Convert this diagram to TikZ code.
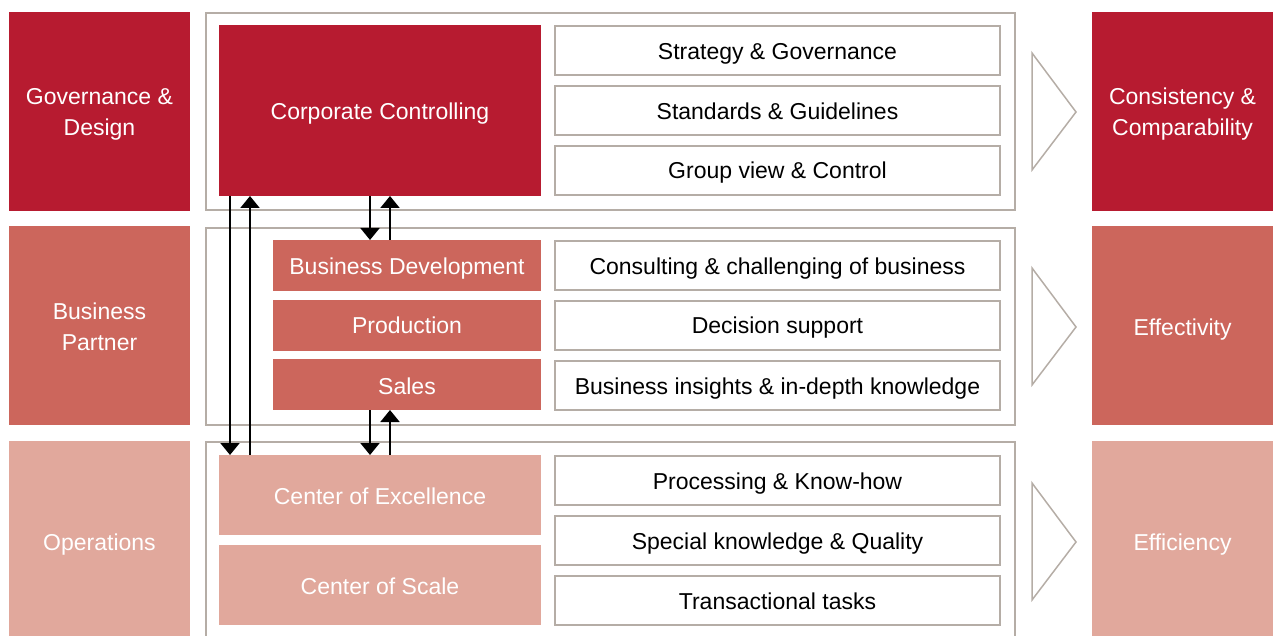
\documentclass[tikz,border=0pt]{standalone}
\usepackage{fontspec}
\setmainfont{Liberation Sans}
\usetikzlibrary{arrows.meta}
\definecolor{cdark}{RGB}{183,27,48}
\definecolor{cmid}{RGB}{204,102,92}
\definecolor{clight}{RGB}{225,168,156}
\definecolor{cgray}{RGB}{181,173,166}
\tikzset{
  lbl/.style={font=\fontsize{23}{31}\selectfont, text=white, align=center, anchor=base, inner sep=0pt},
  frame/.style={draw=cgray, line width=2pt},
  tbox/.style={draw=cgray, line width=2pt, fill=white},
  ttext/.style={font=\fontsize{23}{28}\selectfont, text=black, anchor=base, inner sep=0pt},
  chev/.style={draw=cgray, line width=1.5pt, line join=miter},
  arr/.style={line width=2pt, -{Triangle[width=19pt,length=12pt]}},
}
\begin{document}
\begin{tikzpicture}[x=1pt,y=-1pt]
\useasboundingbox (0,0) rectangle (1280,636);
\clip (0,0) rectangle (1280,636);
% left column
\fill[cdark] (9,12) rectangle (190,211);
\fill[cmid] (9,226) rectangle (190,425);
\fill[clight] (9,441) rectangle (190,650);
\node[lbl] (gd) at (99.5,136) {Governance \&\\Design};
\node[lbl] (bp) at (99.5,351) {Business\\Partner};
\node[lbl] (op) at (99.5,550) {Operations};
% right column
\fill[cdark] (1092,12) rectangle (1273,211);
\fill[cmid] (1092,226) rectangle (1273,425);
\fill[clight] (1092,441) rectangle (1273,650);
\node[lbl] (cc2) at (1182.5,136) {Consistency \&\\Comparability};
\node[lbl] (ef) at (1182.5,335) {Effectivity};
\node[lbl] (ey) at (1182.5,550) {Efficiency};
% frames
\draw[frame] (206,13) rectangle (1015,210);
\draw[frame] (206,228) rectangle (1015,425);
\draw[frame] (206,650) -- (206,442) -- (1015,442) -- (1015,650);
% chevrons (open triangles)
\draw[chev] (1032,53) -- (1076,112) -- (1032,170) -- cycle;
\draw[chev] (1032,268) -- (1076,327) -- (1032,385) -- cycle;
\draw[chev] (1032,483) -- (1076,542) -- (1032,600) -- cycle;
% row 1
\fill[cdark] (219,25) rectangle (541,196);
\node[lbl] (corp) at (380,120) {Corporate Controlling};
\draw[tbox] (555,26) rectangle (1000,75);
\draw[tbox] (555,86) rectangle (1000,135);
\draw[tbox] (555,146) rectangle (1000,195);
\node[ttext] (t1) at (777.5,60) {Strategy \& Governance};
\node[ttext] (t2) at (777.5,120) {Standards \& Guidelines};
\node[ttext] (t3) at (777.5,179) {Group view \& Control};
% row 2
\fill[cmid] (273,240) rectangle (541,291);
\fill[cmid] (273,300) rectangle (541,351);
\fill[cmid] (273,359) rectangle (541,410);
\node[lbl] (bd) at (407,275) {Business Development};
\node[lbl] (pr) at (407,334) {Production};
\node[lbl] (sa) at (407,394) {Sales};
\draw[tbox] (555,241) rectangle (1000,290);
\draw[tbox] (555,301) rectangle (1000,350);
\draw[tbox] (555,361) rectangle (1000,410);
\node[ttext] (t4) at (777.5,275) {Consulting \& challenging of business};
\node[ttext] (t5) at (777.5,334) {Decision support};
\node[ttext] (t6) at (777.5,394) {Business insights \& in-depth knowledge};
% row 3
\fill[clight] (219,455) rectangle (541,535);
\fill[clight] (219,545) rectangle (541,625);
\node[lbl] (coe) at (380,504) {Center of Excellence};
\node[lbl] (cos) at (380,594) {Center of Scale};
\draw[tbox] (555,456) rectangle (1000,505);
\draw[tbox] (555,516) rectangle (1000,565);
\draw[tbox] (555,576) rectangle (1000,625);
\node[ttext] (t7) at (777.5,489) {Processing \& Know-how};
\node[ttext] (t8) at (777.5,549) {Special knowledge \& Quality};
\node[ttext] (t9) at (777.5,609) {Transactional tasks};
% connector anchor coordinates
\coordinate (a1) at (230,196); \coordinate (a2) at (230,455);
\coordinate (b1) at (250,455); \coordinate (b2) at (250,196);
\coordinate (c1) at (370,196); \coordinate (c2) at (370,240);
\coordinate (d1) at (390,240); \coordinate (d2) at (390,196);
\coordinate (e1) at (370,410); \coordinate (e2) at (370,455);
\coordinate (f1) at (390,455); \coordinate (f2) at (390,410);
\draw[arr] (a1) -- (a2);
\draw[arr] (b1) -- (b2);
\draw[arr] (c1) -- (c2);
\draw[arr] (d1) -- (d2);
\draw[arr] (e1) -- (e2);
\draw[arr] (f1) -- (f2);
\end{tikzpicture}
\end{document}
